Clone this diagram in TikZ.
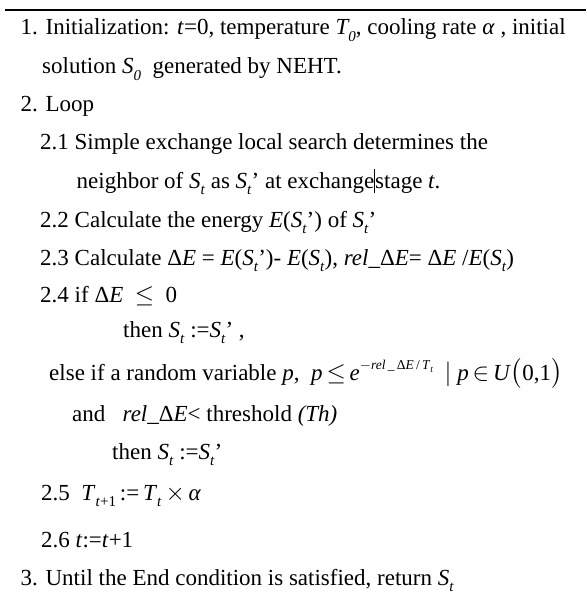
\documentclass[tikz,border=0pt]{standalone}
\usepackage{fontspec}
\setmainfont{Liberation Serif}
\usepackage{amsmath}
\usepackage{tikz}

\newcommand{\sub}[1]{\raisebox{-0.28em}{\fontsize{15}{15}\selectfont #1}}
\newcommand{\St}{\textit{S}\sub{\textit{t}}}
\newcommand{\Stp}{\St’}
\newcommand{\dE}{Δ\textit{E}}

\begin{document}
\begin{tikzpicture}[
  x = 1pt, y = -1pt,
  row/.style = {anchor=base west, inner sep=0pt,
                font=\fontsize{23}{28}\selectfont},
  toprule/.style = {line width=1.6pt}
]
\useasboundingbox (0,0) rectangle (586,599);

% top rule
\draw[toprule] (5,10) -- (586,10);

% 1. initialization
\node[row] (init)  at (20.5,35) {1. Initialization: \textit{t}=0, temperature \textit{T\sub{0}}, cooling rate \textit{α} , initial};
\node[row] (initb) at (42,74) {solution \textit{S\sub{0}}\ \ generated by NEHT.};

% 2. loop
\node[row] (loop) at (20.5,111) {2. Loop};
\node[row] (s21)  at (40,149) {2.1 Simple exchange local search determines the};
\node[row] (s21b) at (76.5,188) {neighbor of \St\ as \Stp\ at exchange\rule[-0.22em]{0.9pt}{1.05em}stage \textit{t}.};
\node[row] (s22)  at (40,227) {2.2 Calculate the energy \textit{E}(\Stp) of \Stp};
\node[row] (s23)  at (40,265) {2.3 Calculate \dE\ = \textit{E}(\Stp)- \textit{E}(\St), \textit{rel}\_\dE= \dE\ /\textit{E}(\St)};
\node[row] (s24)  at (40,302) {2.4 if \dE\ \ $\leq$\ \ 0};

% acceptance
\node[row] (then1)  at (123,337) {then \St\ :=\Stp\ ,};
\node[row] (elseif) at (49,380) {else if a random variable \textit{p},};
\node[row] (accept) at (311,380) {\textit{p}\,$\leq$\,\textit{e}\raisebox{0.45em}{\fontsize{13.5}{13.5}\selectfont $-$\textit{rel}\,\_\,Δ\textit{E}\,/\,\textit{T}\raisebox{-0.2em}{\fontsize{9.5}{9.5}\selectfont\textit{t}}}\ \ $|$\ \textit{p}\,$\in$\,\textit{U}$\big($0,1$\big)$};
\node[row] (andth)  at (72,421) {and\ \ \ \textit{rel}\_\dE< threshold \textit{(Th)}};
\node[row] (then2)  at (112,459) {then \St\ :=\Stp};

% cooling and counter
\node[row] (s25) at (41,500) {2.5\ \ \textit{T}\sub{\textit{t}+1}\,:=\,\textit{T}\sub{\textit{t}}\,$\times$\,\textit{α}};
\node[row] (s26) at (41,547) {2.6 \textit{t}:=\textit{t}+1};

% 3. stop
\node[row] (until) at (20.5,585) {3. Until the End condition is satisfied, return \St};
\end{tikzpicture}
\end{document}
